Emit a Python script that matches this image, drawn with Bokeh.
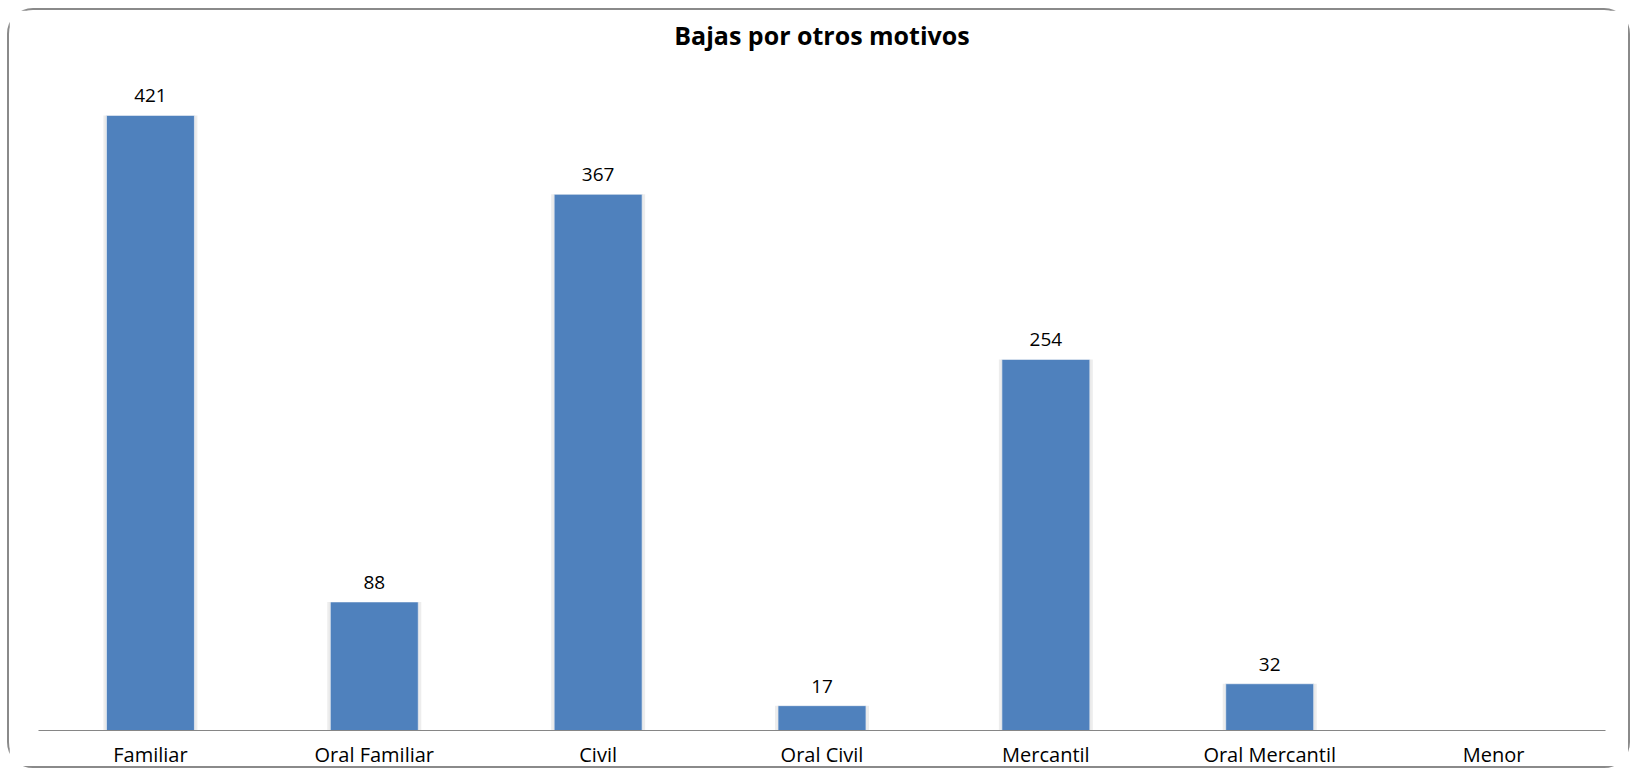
from bokeh.plotting import figure
from bokeh.models import ColumnDataSource, LabelSet, Label, Range1d
from bokeh.core.properties import value
from bokeh.embed import file_html
from bokeh.resources import INLINE

title_text = "Bajas por otros motivos"
categories = ["Familiar", "Oral Familiar", "Civil", "Oral Civil", "Mercantil", "Oral Mercantil", "Menor"]
values = [421, 88, 367, 17, 254, 32, 0]
labels = ["421", "88", "367", "17", "254", "32", ""]
Y_MAX = 492.8

src = ColumnDataSource(dict(cat=categories, val=values, lab=labels))

p = figure(x_range=categories, y_range=Range1d(0, Y_MAX),
           width=1623, height=760, output_backend="svg", toolbar_location=None,
           min_border_left=29, min_border_right=27, min_border_bottom=40, min_border_top=0)

p.styles = {"border": "2px solid #8a8a8a", "border-radius": "26px",
            "margin-left": "7px", "margin-top": "8px"}

# chart title (drawn inside the top of the plotting area)
p.add_layout(Label(x=len(categories) / 2, y=Y_MAX, y_offset=-24, text=title_text,
                   text_align="center", text_baseline="alphabetic",
                   text_font="Open Sans", text_font_size="25px", text_font_style="bold",
                   text_color="#000000"))

# soft shadow behind bars
p.vbar(x="cat", top="val", width=0.42, source=src, fill_color="#000000", fill_alpha=0.07, line_color=None)
p.vbar(x="cat", top="val", width=0.40, source=src, fill_color="#000000", fill_alpha=0.06, line_color=None)
p.vbar(x="cat", top="val", width=0.393, source=src, fill_color="#4F81BD", line_color="#ffffff", line_width=0.6)

ls = LabelSet(x="cat", y="val", text="lab", source=src, text_align="center", text_baseline="alphabetic",
              y_offset=13, text_font=value("Open Sans"), text_font_size=value("19px"), text_color="#000000")
p.add_layout(ls)

p.yaxis.visible = False
p.xgrid.grid_line_color = None
p.ygrid.grid_line_color = None
p.outline_line_color = None
p.xaxis.axis_line_color = "#868686"
p.xaxis.axis_line_width = 1.2
p.xaxis.major_tick_line_color = None
p.xaxis.minor_tick_line_color = None
p.xaxis.major_tick_in = 0
p.xaxis.major_tick_out = 0
p.xaxis.major_label_standoff = 10
p.xaxis.major_label_text_font = "Open Sans"
p.xaxis.major_label_text_font_size = "20px"
p.xaxis.major_label_text_color = "#000000"
p.x_range.range_padding = 0
p.background_fill_color = "#ffffff"
p.border_fill_color = "#ffffff"

open("out.html", "w").write(file_html(p, INLINE))
